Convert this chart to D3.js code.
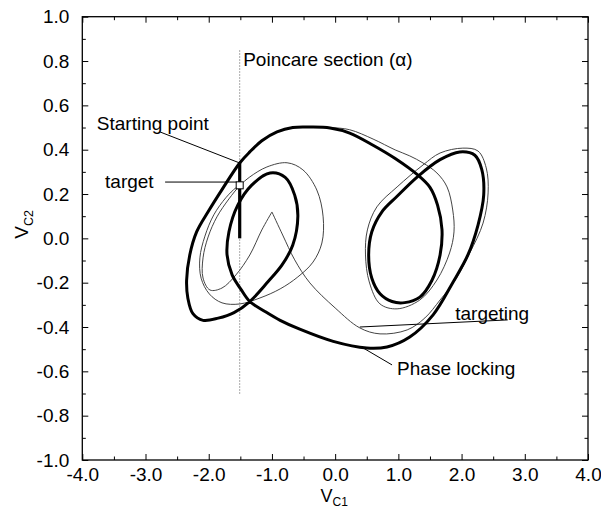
<!DOCTYPE html>
<html>
<head>
<meta charset="utf-8">
<script src="https://cdn.jsdelivr.net/npm/d3@7"></script>
<style>
  html, body { margin: 0; padding: 0; background: #fff; }
  svg { display: block; }
  text { font-family: "Liberation Sans", Arial, Helvetica, sans-serif; fill: #000; }
</style>
</head>
<body>
<svg id="chart" width="601" height="515"></svg>
<script>
// Axis ticks
const xTicks = [-4, -3, -2, -1, 0, 1, 2, 3, 4];
const xMinorTicks = [-3.5, -2.5, -1.5, -0.5, 0.5, 1.5, 2.5, 3.5];
const yTicks = [-1.0, -0.8, -0.6, -0.4, -0.2, 0.0, 0.2, 0.4, 0.6, 0.8, 1.0];
const yMinorTicks = [-0.9, -0.7, -0.5, -0.3, -0.1, 0.1, 0.3, 0.5, 0.7, 0.9];

// Poincare section (V_C1 = const) and the starting segment on it
const poincareX = -1.51;
const poincareRange = [-0.70, 0.85];
const startSegment = [[-1.51, 0.0], [-1.51, 0.34]];
const targetPoint = [-1.51, 0.237];

// Phase-locked orbit (V_C1, V_C2), closed
const lockedOrbit = [
  [-1.51, 0.34], [-1.35, 0.39], [-1.16, 0.44], [-0.92, 0.48], [-0.67, 0.50], [-0.40, 0.502],
  [-0.08, 0.498], [0.23, 0.475], [0.60, 0.42], [0.95, 0.36], [1.31, 0.285], [1.50, 0.23],
  [1.62, 0.15], [1.69, 0.04], [1.66, -0.075], [1.53, -0.19], [1.34, -0.265], [1.10, -0.29],
  [0.90, -0.285], [0.71, -0.25], [0.58, -0.18], [0.53, -0.075], [0.58, 0.03], [0.74, 0.12],
  [0.98, 0.19], [1.31, 0.28], [1.66, 0.355], [1.97, 0.39], [2.21, 0.375], [2.32, 0.31],
  [2.35, 0.195], [2.26, 0.06], [2.10, -0.075], [1.86, -0.20], [1.55, -0.345], [1.18, -0.445],
  [0.82, -0.49], [0.50, -0.495], [-0.03, -0.465], [-0.56, -0.41], [-0.87, -0.37], [-1.11, -0.33],
  [-1.35, -0.285], [-1.49, -0.23], [-1.63, -0.165], [-1.71, -0.075], [-1.68, 0.03], [-1.54, 0.15],
  [-1.32, 0.24], [-1.03, 0.295], [-0.79, 0.275], [-0.64, 0.195], [-0.59, 0.10], [-0.67, -0.03],
  [-0.84, -0.12], [-1.06, -0.195], [-1.35, -0.285], [-1.60, -0.335], [-1.85, -0.36], [-2.09, -0.37],
  [-2.25, -0.34], [-2.33, -0.27], [-2.35, -0.19], [-2.30, -0.075], [-2.19, 0.03], [-2.01, 0.12],
  [-1.79, 0.22]
];

// Targeting trajectory: from the starting point round both scrolls up to the kick
const targetingOut = [
  [-1.51, 0.34], [-1.35, 0.394], [-1.16, 0.439], [-0.92, 0.48], [-0.67, 0.50], [-0.40, 0.502],
  [-0.08, 0.50], [0.23, 0.49], [0.60, 0.448], [0.95, 0.399], [1.18, 0.372], [1.39, 0.34],
  [1.61, 0.295], [1.77, 0.232], [1.86, 0.128], [1.88, 0.029], [1.81, -0.066], [1.61, -0.188],
  [1.34, -0.278], [0.98, -0.318], [0.71, -0.296], [0.54, -0.197], [0.48, -0.075], [0.51, 0.038],
  [0.66, 0.142], [0.98, 0.232], [1.39, 0.331], [1.66, 0.385], [2.02, 0.407], [2.26, 0.394],
  [2.39, 0.318], [2.42, 0.205], [2.34, 0.069], [2.13, -0.066], [1.90, -0.188], [1.66, -0.278],
  [1.42, -0.359], [1.14, -0.413], [0.71, -0.431], [0.39, -0.404], [0.00, -0.314], [-0.40, -0.201],
  [-0.64, -0.097], [-0.83, 0.015], [-1.00, 0.119]
];

// Targeting trajectory after the kick: down the left side, through the target and once round
const targetingBack = [
  [-1.00, 0.119], [-1.16, 0.038], [-1.35, -0.075], [-1.57, -0.165], [-1.79, -0.224], [-1.98, -0.233],
  [-2.09, -0.179], [-2.09, -0.088], [-2.01, 0.006], [-1.87, 0.097], [-1.68, 0.178], [-1.51, 0.237],
  [-1.35, 0.277], [-1.08, 0.322], [-0.76, 0.341], [-0.51, 0.309], [-0.29, 0.218], [-0.19, 0.097],
  [-0.21, -0.021], [-0.35, -0.107], [-0.59, -0.174], [-0.87, -0.228], [-1.19, -0.269], [-1.51, -0.296],
  [-1.79, -0.291], [-1.99, -0.251], [-2.12, -0.18], [-2.14, -0.088], [-2.06, 0.01], [-1.92, 0.106],
  [-1.73, 0.183], [-1.57, 0.228], [-1.51, 0.237]
];

const svg = d3.select("#chart");
const plotLeft = 82.3, plotRight = 588, plotTop = 16.7, plotBottom = 460;
const x = d3.scaleLinear().domain([-4, 4]).range([plotLeft, plotRight]);
const y = d3.scaleLinear().domain([-1, 1]).range([plotBottom, plotTop]);
const fmt = d => d.toFixed(1);
const FS = 19;

// ---- axes (ticks point inward on all four sides) ----
const axisG = svg.append("g");
function styleAxis(g) {
  g.select(".domain").remove();
  g.selectAll(".tick line").attr("stroke", "#000").attr("stroke-width", 1);
  g.selectAll("text").attr("font-size", FS).attr("font-family", "Liberation Sans, Arial, sans-serif").attr("fill", "#000");
}
axisG.append("g").attr("transform", `translate(0,${plotBottom})`)
  .call(d3.axisBottom(x).tickValues(xTicks).tickFormat(fmt).tickSizeInner(-6).tickSizeOuter(0).tickPadding(7.5))
  .call(styleAxis);
axisG.append("g").attr("transform", `translate(0,${plotBottom})`)
  .call(d3.axisBottom(x).tickValues(xMinorTicks).tickFormat("").tickSizeInner(-3.5).tickSizeOuter(0))
  .call(styleAxis);
axisG.append("g").attr("transform", `translate(0,${plotTop})`)
  .call(d3.axisTop(x).tickValues(xTicks).tickFormat("").tickSizeInner(-6).tickSizeOuter(0))
  .call(styleAxis);
axisG.append("g").attr("transform", `translate(0,${plotTop})`)
  .call(d3.axisTop(x).tickValues(xMinorTicks).tickFormat("").tickSizeInner(-3.5).tickSizeOuter(0))
  .call(styleAxis);
axisG.append("g").attr("transform", `translate(${plotLeft},0)`)
  .call(d3.axisLeft(y).tickValues(yTicks).tickFormat(fmt).tickSizeInner(-6).tickSizeOuter(0).tickPadding(13))
  .call(styleAxis);
axisG.append("g").attr("transform", `translate(${plotLeft},0)`)
  .call(d3.axisLeft(y).tickValues(yMinorTicks).tickFormat("").tickSizeInner(-3.5).tickSizeOuter(0))
  .call(styleAxis);
axisG.append("g").attr("transform", `translate(${plotRight},0)`)
  .call(d3.axisRight(y).tickValues(yTicks).tickFormat("").tickSizeInner(-6).tickSizeOuter(0))
  .call(styleAxis);
axisG.append("g").attr("transform", `translate(${plotRight},0)`)
  .call(d3.axisRight(y).tickValues(yMinorTicks).tickFormat("").tickSizeInner(-3.5).tickSizeOuter(0))
  .call(styleAxis);

// frame
svg.append("rect")
  .attr("x", plotLeft).attr("y", plotTop).attr("width", plotRight - plotLeft).attr("height", plotBottom - plotTop)
  .attr("fill", "none").attr("stroke", "#000").attr("stroke-width", 1.3);

// axis titles
const xt = svg.append("text").attr("x", x(0) - 1).attr("y", 502).attr("text-anchor", "middle");
xt.append("tspan").attr("font-size", 18).text("V");
xt.append("tspan").attr("font-size", 12).attr("dy", 4).text("C1");

const yt = svg.append("text")
  .attr("transform", `translate(28,${y(0) - 14}) rotate(-90)`)
  .attr("text-anchor", "middle");
yt.append("tspan").attr("font-size", 19).text("V");
yt.append("tspan").attr("font-size", 12.5).attr("dy", 5).text("C2");

// ---- plot content ----
const plot = svg.append("g");
const smooth = d3.line().x(d => x(d[0])).y(d => y(d[1])).curve(d3.curveCatmullRom.alpha(0.5));
const smoothClosed = d3.line().x(d => x(d[0])).y(d => y(d[1])).curve(d3.curveCatmullRomClosed.alpha(0.5));
const straight = d3.line().x(d => x(d[0])).y(d => y(d[1]));

// Poincare section
plot.append("line")
  .attr("x1", x(poincareX)).attr("x2", x(poincareX))
  .attr("y1", y(poincareRange[0])).attr("y2", y(poincareRange[1]))
  .attr("stroke", "#555").attr("stroke-width", 1).attr("stroke-dasharray", "1,2");

// targeting trajectory (thin)
[targetingOut, targetingBack].forEach(seg => {
  plot.append("path").attr("d", smooth(seg))
    .attr("fill", "none").attr("stroke", "#3a3a3a").attr("stroke-width", 0.95);
});

// phase-locked orbit (thick)
plot.append("path").attr("d", smoothClosed(lockedOrbit))
  .attr("fill", "none").attr("stroke", "#000").attr("stroke-width", 3).attr("stroke-linejoin", "round");

// starting segment on the section
plot.append("path").attr("d", straight(startSegment))
  .attr("fill", "none").attr("stroke", "#000").attr("stroke-width", 3.2);

// target marker
plot.append("rect")
  .attr("x", x(targetPoint[0]) - 3.5).attr("y", y(targetPoint[1]) - 4)
  .attr("width", 7).attr("height", 7)
  .attr("fill", "#fff").attr("stroke", "#000").attr("stroke-width", 1);

// ---- annotations ----
function pointer(a, b) {
  plot.append("line")
    .attr("x1", x(a[0])).attr("y1", y(a[1])).attr("x2", x(b[0])).attr("y2", y(b[1]))
    .attr("stroke", "#000").attr("stroke-width", 1);
}
function label(pos, str) {
  svg.append("text").attr("x", x(pos[0])).attr("y", y(pos[1])).attr("font-size", FS).text(str);
}
label([-1.455, 0.778], "Poincare section (\u03b1)");
label([-3.77, 0.489], "Starting point");
pointer([-2.77, 0.48], [-1.51, 0.34]);
label([-3.64, 0.227], "target");
pointer([-2.69, 0.254], [-1.56, 0.254]);
label([1.90, -0.368], "targeting");
pointer([0.39, -0.40], [2.73, -0.368]);
label([0.98, -0.616], "Phase locking");
pointer([0.44, -0.494], [0.90, -0.571]);
</script>
</body>
</html>
